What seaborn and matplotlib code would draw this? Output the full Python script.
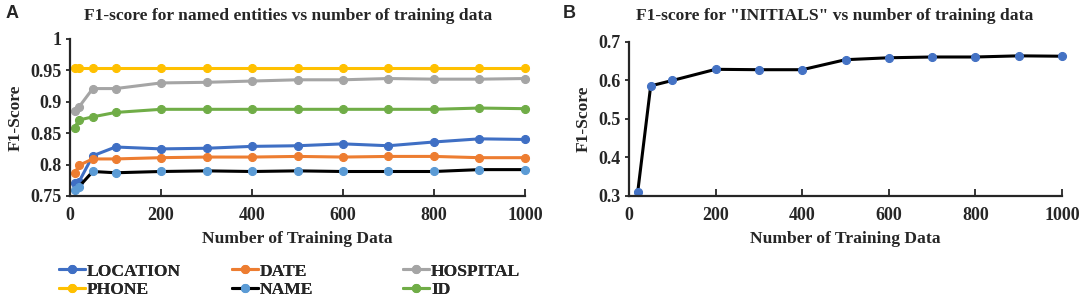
#!/usr/bin/env python3
import pandas as pd
import seaborn as sns
from matplotlib import pyplot as plt

# number of training data (x axis)
TRAIN_SIZES = [10, 20, 50, 100, 200, 300, 400, 500, 600, 700, 800, 900, 1000]

# panel A: F1 per named entity
LOCATION = [0.770, 0.773, 0.814, 0.828, 0.825, 0.826, 0.829, 0.830, 0.833, 0.830, 0.836, 0.841, 0.840]
DATE = [0.786, 0.799, 0.809, 0.809, 0.811, 0.812, 0.812, 0.813, 0.812, 0.813, 0.813, 0.811, 0.811]
HOSPITAL = [0.885, 0.892, 0.921, 0.921, 0.930, 0.931, 0.933, 0.935, 0.935, 0.937, 0.936, 0.936, 0.937]
PHONE = [0.953, 0.953, 0.953, 0.953, 0.953, 0.953, 0.953, 0.953, 0.953, 0.953, 0.953, 0.953, 0.953]
NAME = [0.760, 0.765, 0.789, 0.787, 0.789, 0.790, 0.789, 0.790, 0.789, 0.789, 0.789, 0.792, 0.792]
ID = [0.859, 0.871, 0.876, 0.883, 0.888, 0.888, 0.888, 0.888, 0.888, 0.888, 0.888, 0.890, 0.889]

# panel B: F1 for INITIALS
INITIALS_SIZES = [20, 50, 100, 200, 300, 400, 500, 600, 700, 800, 900, 1000]
INITIALS = [0.310, 0.586, 0.600, 0.629, 0.628, 0.628, 0.654, 0.659, 0.661, 0.661, 0.664, 0.663]

X_TICKS = [0, 200, 400, 600, 800, 1000]
A_YTICKS = [0.75, 0.8, 0.85, 0.9, 0.95, 1.0]
A_YTICK_LABELS = ["0.75", "0.8", "0.85", "0.9", "0.95", "1"]
B_YTICKS = [0.3, 0.4, 0.5, 0.6, 0.7]
B_YTICK_LABELS = ["0.3", "0.4", "0.5", "0.6", "0.7"]

# name, values, line colour, marker colour
SERIES = [
    ("LOCATION", LOCATION, "#3f6fc4", "#3f6fc4"),
    ("DATE", DATE, "#ed7d31", "#ed7d31"),
    ("HOSPITAL", HOSPITAL, "#a5a5a5", "#a5a5a5"),
    ("PHONE", PHONE, "#ffc000", "#ffc000"),
    ("NAME", NAME, "black", "#5b9bd5"),
    ("ID", ID, "#70ad47", "#70ad47"),
]

TEXT_SIZE = 12.6
TICK_SIZE = 13


def style_axes(ax, yticks, ylabels):
    ax.set_xlim(0, 1000)
    ax.set_xticks(X_TICKS)
    ax.set_xticklabels([str(t) for t in X_TICKS])
    ax.set_yticks(yticks)
    ax.set_yticklabels(ylabels)
    ax.set_ylim(yticks[0], yticks[-1])
    ax.tick_params(axis="x", direction="in", length=5, width=1.3, pad=8, labelsize=TICK_SIZE)
    ax.tick_params(axis="y", direction="out", length=3, width=1.3, pad=3, labelsize=TICK_SIZE)
    for side in ["left", "bottom"]:
        ax.spines[side].set_linewidth(1.6)
    sns.despine(ax=ax)
    ax.set_xlabel("Number of Training Data", fontsize=TEXT_SIZE, labelpad=5)
    ax.set_ylabel("F1-Score", fontsize=TEXT_SIZE, labelpad=5)


def plot():
    sns.set_style("ticks")
    plt.rcParams["font.family"] = ["Liberation Serif", "DejaVu Serif"]
    plt.rcParams["font.weight"] = "bold"
    plt.rcParams["axes.labelweight"] = "bold"
    plt.rcParams["axes.titleweight"] = "bold"

    fig = plt.figure(figsize=(10.84, 3.02), dpi=100)
    ax_a = fig.add_axes([0.0646, 0.351, 0.4197, 0.520])
    ax_b = fig.add_axes([0.5803, 0.351, 0.3994, 0.510])

    handles = {}
    for name, values, color, mcolor in SERIES:
        df = pd.DataFrame({"n": TRAIN_SIZES, "f1": values})
        sns.lineplot(data=df, x="n", y="f1", ax=ax_a, color=color, linewidth=2.2,
                     marker="o", markersize=5.8, markerfacecolor=mcolor, markeredgecolor=mcolor,
                     label=name, legend=False, clip_on=False)
        handles[name] = ax_a.lines[-1]
    style_axes(ax_a, A_YTICKS, A_YTICK_LABELS)
    ax_a.set_title("F1-score for named entities vs number of training data", fontsize=TEXT_SIZE,
                   x=0.479, pad=14)

    df_b = pd.DataFrame({"n": INITIALS_SIZES, "f1": INITIALS})
    sns.lineplot(data=df_b, x="n", y="f1", ax=ax_b, color="black", linewidth=2.2,
                 marker="o", markersize=5.8, markerfacecolor="#4472c4", markeredgecolor="#4472c4",
                 clip_on=False)
    style_axes(ax_b, B_YTICKS, B_YTICK_LABELS)
    ax_b.set_title('F1-score for "INITIALS" vs number of training data', fontsize=TEXT_SIZE,
                   x=0.476, pad=16)

    # Excel-like legend: three fixed columns, two rows
    columns = [["LOCATION", "PHONE"], ["DATE", "NAME"], ["HOSPITAL", "ID"]]
    col_x = [59 / 1084, 232 / 1084, 403 / 1084]
    for names, x in zip(columns, col_x):
        leg = fig.legend([handles[n] for n in names], names, loc="upper left",
                         bbox_to_anchor=(x, 0.128), frameon=False, fontsize=TEXT_SIZE,
                         handlelength=1.5, handletextpad=0.1, labelspacing=0.12,
                         borderpad=0, borderaxespad=0)
        fig.add_artist(leg)

    fig.text(12 / 1084, 1 - 14 / 302, "A", fontsize=13, fontweight="bold",
             family="Liberation Sans", ha="center", va="center")
    fig.text(569 / 1084, 1 - 14 / 302, "B", fontsize=13, fontweight="bold",
             family="Liberation Sans", ha="center", va="center")

    plt.savefig("out.png", dpi=100)
    plt.close()


def main():
    plot()


if __name__ == '__main__':
    main()
